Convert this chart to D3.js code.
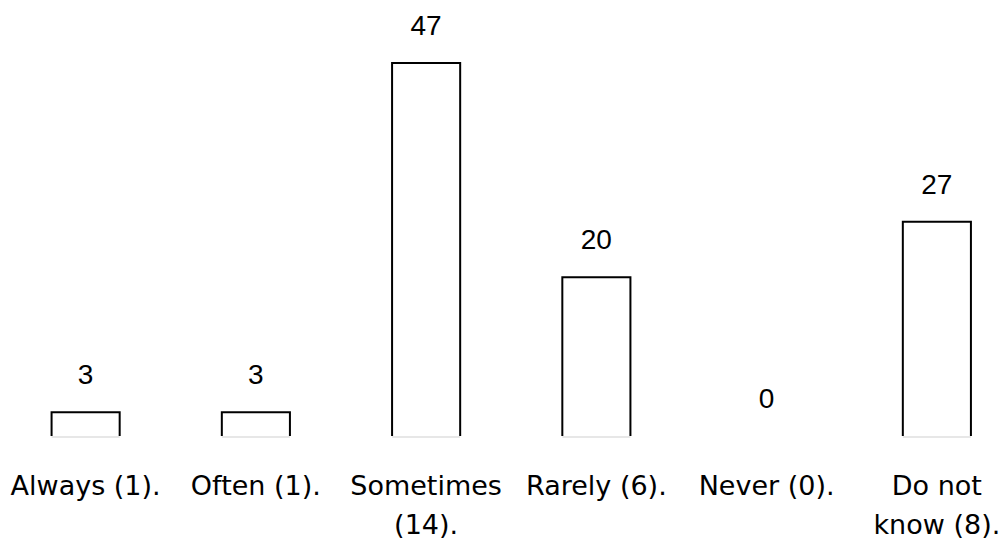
<!DOCTYPE html>
<html>
<head>
<meta charset="utf-8">
<script src="https://cdn.jsdelivr.net/npm/d3@7"></script>
<style>
  html, body { margin: 0; padding: 0; background: #fff; }
  svg { display: block; }
</style>
</head>
<body>
<svg id="chart" width="1008" height="543"></svg>
<script>
// Survey responses: share of answers (%) per frequency category
const categories = ["Always (1).", "Often (1).", "Sometimes (14).", "Rarely (6).", "Never (0).", "Do not know (8)."];
const categoryLines = [["Always (1)."], ["Often (1)."], ["Sometimes", "(14)."], ["Rarely (6)."], ["Never (0)."], ["Do not", "know (8)."]];
const values = [3, 3, 47, 20, 0, 27];

const svg = d3.select("#chart");
const baseY = 436;

const x = d3.scaleBand()
  .domain(categories)
  .range([0.5, 1022])
  .paddingInner(0.6)
  .paddingOuter(0.3);

const y = d3.scaleLinear()
  .domain([0, 47])
  .range([baseY, 63]);

const data = categories.map((c, i) => ({ cat: c, value: values[i], lines: categoryLines[i] }));
const nonZero = data.filter(d => d.value > 0);

// light baseline under each bar
svg.append("g").selectAll("line")
  .data(nonZero)
  .join("line")
  .attr("x1", d => x(d.cat))
  .attr("x2", d => x(d.cat) + x.bandwidth())
  .attr("y1", baseY + 1)
  .attr("y2", baseY + 1)
  .attr("stroke", "#d0d0d0")
  .attr("stroke-width", 1.2);

// open-bottom bar outlines
svg.append("g").selectAll("path")
  .data(nonZero)
  .join("path")
  .attr("d", d => {
    const x0 = x(d.cat), x1 = x0 + x.bandwidth(), t = y(d.value);
    return `M${x0},${baseY}L${x0},${t}L${x1},${t}L${x1},${baseY}`;
  })
  .attr("fill", "#fff")
  .attr("stroke", "#000")
  .attr("stroke-width", 2);

// value labels
svg.append("g").selectAll("text")
  .data(data)
  .join("text")
  .attr("x", d => x(d.cat) + x.bandwidth() / 2)
  .attr("y", d => y(d.value) - 28)
  .attr("text-anchor", "middle")
  .attr("font-family", "'Liberation Sans', Arial, sans-serif")
  .attr("font-size", 28)
  .attr("fill", "#000")
  .text(d => d.value);

// category labels (wrapped)
const catG = svg.append("g").selectAll("text")
  .data(data)
  .join("text")
  .attr("text-anchor", "middle")
  .attr("font-family", "'DejaVu Sans', sans-serif")
  .attr("font-size", 27)
  .attr("fill", "#000");

catG.selectAll("tspan")
  .data(d => d.lines.map(l => ({ l, cx: x(d.cat) + x.bandwidth() / 2 })))
  .join("tspan")
  .attr("x", d => d.cx)
  .attr("y", (d, i) => 495 + i * 39)
  .text(d => d.l);
</script>
</body>
</html>
